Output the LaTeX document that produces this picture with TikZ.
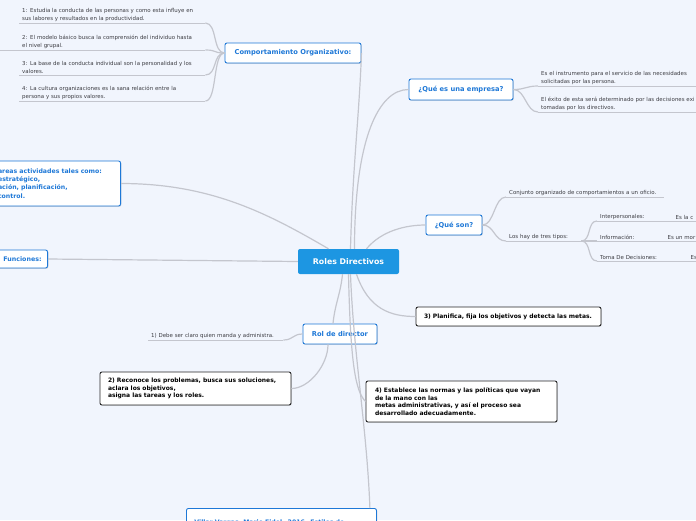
\documentclass[tikz,border=0pt]{standalone}
\usepackage{fontspec}
\setmainfont{DejaVu Sans}
\usepackage{xcolor}
\usepackage{tikz}
\usetikzlibrary{shapes,arrows,positioning,fit,calc,shadows}
\definecolor{bgblue}{RGB}{241,245,253}
\definecolor{linegray}{RGB}{196,198,206}
\definecolor{topicblue}{RGB}{30,120,215}
\definecolor{rolesblue}{RGB}{29,150,226}
\definecolor{leafgray}{RGB}{60,60,66}
\tikzstyle{conn} = [draw=linegray, line width=1.2pt]
\tikzstyle{uline} = [draw=linegray, line width=0.9pt]
\tikzstyle{topic} = [rectangle, draw=topicblue, line width=0.9pt, rounded corners=2pt, fill=white, text=topicblue, font=\fontsize{6.7}{8}\selectfont\bfseries, drop shadow={opacity=0.25, shadow xshift=0.8pt, shadow yshift=-0.8pt}]
\tikzstyle{note} = [rectangle, draw=black!85, line width=0.9pt, rounded corners=2pt, fill=white, align=left, font=\fontsize{6.0}{7.7}\selectfont\bfseries, drop shadow={opacity=0.25, shadow xshift=0.8pt, shadow yshift=-0.8pt}]
\tikzstyle{leaf} = [inner xsep=3pt, inner ysep=1.5pt, anchor=south west, align=left, text=leafgray, font=\fontsize{5.45}{8}\selectfont]

\begin{document}
\begin{tikzpicture}[x=1pt, y=-1pt]
    \useasboundingbox (0,0) rectangle (696,520);
    \clip (0,0) rectangle (696,520);
    \fill[bgblue] (0,0) rectangle (696,520);

    % main topics
    \node[rectangle, rounded corners=2pt, fill=rolesblue, text=white, minimum width=101pt, minimum height=25pt, font=\fontsize{7.8}{9}\selectfont\bfseries] (roles) at (348.5,261.5) {Roles Directivos};
    \node[topic, minimum width=136pt, minimum height=20pt] (comp) at (293,53) {Comportamiento Organizativo:};
    \node[topic, minimum width=104pt, minimum height=21pt] (empresa) at (461,89.5) {¿Qué es una empresa?};
    \node[topic, minimum width=56pt, minimum height=20pt] (queson) at (454,225) {¿Qué son?};
    \node[topic, minimum width=74pt, minimum height=20pt] (rol) at (340,334) {Rol de director};
    \node[topic, anchor=east, text width=118pt, inner xsep=4.5pt, minimum height=45pt, align=left, font=\fontsize{6.2}{8.3}\selectfont\bfseries] (tareas) at (121,183.5) {areas actividades tales como:\\estratégico,\\ación, planificación,\\control.};
    \node[topic, anchor=east, text width=80pt, inner xsep=6pt, minimum height=18pt, align=right, font=\fontsize{6.3}{8}\selectfont\bfseries] (funciones) at (48,259) {Funciones:};
    \node[topic, anchor=north west, text width=174pt, inner xsep=8pt, inner ysep=5pt, minimum height=30pt, align=left, font=\fontsize{6.2}{8.3}\selectfont\bfseries] (villar) at (186,508) {\underline{Villar Vargas, Mario Fidel. 2016. Estilos de}};

    \node[note, text width=169pt, inner xsep=8pt, minimum height=19pt] (planifica) at (508.5,316.5) {3) Planifica, fija los objetivos y detecta las metas.};
    \node[note, text width=175pt, inner xsep=8pt, minimum height=33pt] (reconoce) at (195.5,388.5) {2) Reconoce los problemas, busca sus soluciones,\\aclara los objetivos,\\asigna las tareas y los roles.};
    \node[note, text width=173pt, inner xsep=9pt, minimum height=41pt] (establece) at (461.5,401.5) {4) Establece las normas y las políticas que vayan\\de la mano con las\\metas administrativas, y así el proceso sea\\desarrollado adecuadamente.};

    % branches from the centre
    \draw[conn] ([xshift=2pt]roles.north) .. controls +(2,-80) and +(-2,60) .. (comp.east);
    \draw[conn] ([xshift=6pt]roles.north) .. controls +(0,-110) and +(-30,0) .. (empresa.west);
    \draw[conn] ([xshift=18pt]roles.north) .. controls +(15,-18) and +(-20,0) .. (queson.west);
    \draw[conn] ([xshift=-20pt]roles.north) .. controls +(-60,-35) and +(90,0) .. (tareas.east);
    \draw[conn] (roles.west) -- (funciones.east);
    \draw[conn] ([xshift=-6pt]roles.south) .. controls +(-2,20) and +(2,-20) .. ([xshift=-7pt]rol.north);
    \draw[conn] ([xshift=8pt]roles.south) .. controls +(12,35) and +(-25,0) .. (planifica.west);
    \draw[conn] (roles.south) .. controls +(2,90) and +(-10,-10) .. (establece.west);
    \draw[conn] ([xshift=2pt]roles.south) .. controls +(3,80) and +(-3,-80) .. ([xshift=-7pt]villar.north east);

    % comportamiento organizativo
    \foreach \i/\y/\txt in {1/23/{1: Estudia la conducta de las personas y como esta influye en\\sus labores y resultados en la productividad.},
                            2/50/{2: El modelo básico busca la comprensión del individuo hasta\\el  nivel grupal.},
                            3/75/{3: La base de la conducta individual son la personalidad y los\\valores.},
                            4/101/{4: La cultura organizaciones es la sana relación entre la\\persona y sus propios valores.}} {
        \node[leaf, text width=180pt] (item\i) at (19,\y) {\txt};
        \draw[uline] (item\i.south west) -- (item\i.south east);
        \draw[conn] (comp.west) .. controls +(-12,0) and +(12,0) .. (item\i.south east);
    }
    \draw[uline] (item2.south west) -- ++(-19,0);

    % que es una empresa
    \node[leaf, text width=175pt] (emp1) at (538,86) {Es el instrumento para el servicio de las necesidades\\solicitadas por las persona.};
    \node[leaf, text width=175pt] (emp2) at (538,112) {El éxito de esta será determinado por las decisiones exi\\tomadas por los directivos.};
    \foreach \e in {emp1,emp2} {
        \draw[uline] (\e.south west) -- (\e.south east);
        \draw[conn] (empresa.east) .. controls +(12,0) and +(-12,0) .. (\e.south west);
    }

    % que son
    \node[leaf, text width=152pt] (conjunto) at (506,197) {Conjunto organizado de comportamientos a un oficio.};
    \node[leaf, text width=69pt] (tipos) at (506,241) {Los hay de tres tipos:};
    \foreach \q in {conjunto,tipos} {
        \draw[uline] (\q.south west) -- (\q.south east);
        \draw[conn] (queson.east) .. controls +(12,0) and +(-12,0) .. (\q.south west);
    }
    \node[leaf, text width=69pt] (tipo1) at (597,221) {Interpersonales:};
    \node[leaf, text width=61pt] (tipo2) at (597,241) {Información:};
    \node[leaf, text width=84pt] (tipo3) at (597,261) {Toma De Decisiones:};
    \node[leaf, text width=40pt] (desc1) at (tipo1.south east) {Es la c};
    \node[leaf, text width=40pt] (desc2) at (tipo2.south east) {Es un mor};
    \node[leaf, text width=40pt] (desc3) at (tipo3.south east) {Es};
    \foreach \i in {1,2,3} {
        \draw[uline] (tipo\i.south west) -- (tipo\i.south east);
        \draw[uline] (desc\i.south west) -- (desc\i.south east);
        \draw[conn] (tipos.south east) .. controls +(10,0) and +(-10,0) .. (tipo\i.south west);
    }

    % rol de director
    \node[leaf, text width=129pt] (manda) at (148,340) {1) Debe ser claro quien manda y administra.};
    \draw[uline] (manda.south west) -- (manda.south east);
    \draw[conn] (rol.west) .. controls +(-10,0) and +(10,0) .. (manda.south east);
    \draw[conn] (reconoce.east) .. controls +(18,0) and +(0,20) .. ([xshift=-12pt]rol.south);
\end{tikzpicture}
\end{document}
